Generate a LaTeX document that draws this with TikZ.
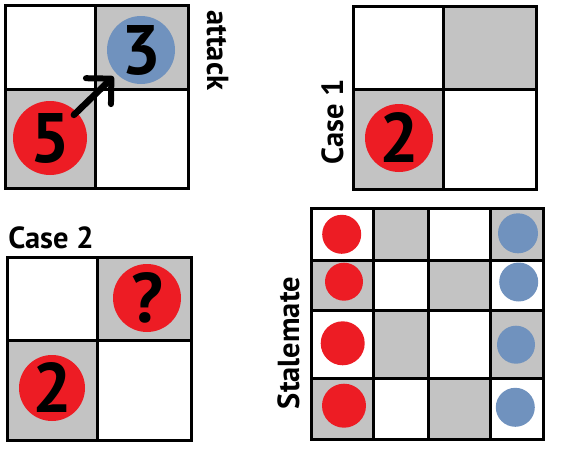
\documentclass[tikz,border=0pt]{standalone}
\usepackage{fontspec}
\setmainfont{PT Sans}
\usetikzlibrary{arrows.meta}
\definecolor{pred}{HTML}{ED1C24}
\definecolor{pblue}{HTML}{7092BE}
\definecolor{pgray}{HTML}{C3C3C3}
\begin{document}
\begin{tikzpicture}[x=1pt,y=-1pt,
  gridline/.style={line width=3pt,draw=black},
  cellg/.style={fill=pgray},
  piece/.style={circle,inner sep=0pt,font=\bfseries\fontsize{70}{70}\selectfont},
  redp/.style={piece,fill=pred},
  bluep/.style={piece,fill=pblue},
  lbl/.style={font=\bfseries\fontsize{30.5}{30.5}\selectfont,inner sep=0pt},
  arr/.style={line width=6.5pt,line cap=round,-{Straight Barb[length=18pt,width=36pt,round,line width=6pt]}}]
\useasboundingbox (0,0) rectangle (563,453);
% grid 1 (attack)
\fill[cellg] (95,5) rectangle (188,89);
\fill[cellg] (5,89) rectangle (95,188);
\draw[gridline] (5,5) rectangle (188,188) (95,5) -- (95,188) (5,89) -- (188,89);
\node[redp,minimum size=74pt] (p5) at (50,138) {5};
\node[bluep,minimum size=68pt] (p3) at (141,50) {3};
\draw[arr,shorten >=4pt,shorten <=-4pt] (p5) -- (p3);
\node[lbl,rotate=-90] (tattack) at (217.5,50.5) {attack};
% grid 2 (Case 1)
\fill[cellg] (443,6) rectangle (536,89);
\fill[cellg] (353,89) rectangle (443,189);
\draw[gridline] (353,6) rectangle (536,189) (443,6) -- (443,189) (353,89) -- (536,89);
\node[redp,minimum size=68pt] (c1p) at (399,138) {2};
\node[lbl,rotate=90] (tcase1) at (332.5,122) {Case 1};
% grid 3 (Case 2)
\fill[cellg] (97,257) rectangle (191,340);
\fill[cellg] (7,340) rectangle (97,440);
\draw[gridline] (7,257) rectangle (191,440) (97,257) -- (97,440) (7,340) -- (191,340);
\node[redp,minimum size=68pt] (c2q) at (147,298) {?};
\node[redp,minimum size=66pt] (c2p) at (52,388) {2};
\node[lbl] (tcase2) at (51,237.5) {Case 2};
% grid 4 (Stalemate)
\fill[cellg] (373,208) rectangle (428,260);
\fill[cellg] (490,208) rectangle (543,260);
\fill[cellg] (311,260) rectangle (373,310);
\fill[cellg] (428,260) rectangle (490,310);
\fill[cellg] (373,310) rectangle (428,378);
\fill[cellg] (490,310) rectangle (543,378);
\fill[cellg] (311,378) rectangle (373,439);
\fill[cellg] (428,378) rectangle (490,439);
\draw[gridline] (311,208) rectangle (543,439)
  (373,208) -- (373,439) (428,208) -- (428,439) (490,208) -- (490,439)
  (311,260) -- (543,260) (311,310) -- (543,310) (311,378) -- (543,378);
\node[redp,minimum size=39pt] (r1) at (341.7,234.3) {};
\node[redp,minimum size=38pt] (r2) at (344,281.7) {};
\node[redp,minimum size=44pt] (r3) at (342.7,343.3) {};
\node[redp,minimum size=44pt] (r4) at (344,405.7) {};
\node[bluep,minimum size=40pt] (b1) at (518,233.3) {};
\node[bluep,minimum size=39pt] (b2) at (518.7,282) {};
\node[bluep,minimum size=38pt] (b3) at (516,344.7) {};
\node[bluep,minimum size=39pt] (b4) at (515.3,407.3) {};
\node[lbl,rotate=90] (tstale) at (288.5,343) {Stalemate};
\end{tikzpicture}
\end{document}
